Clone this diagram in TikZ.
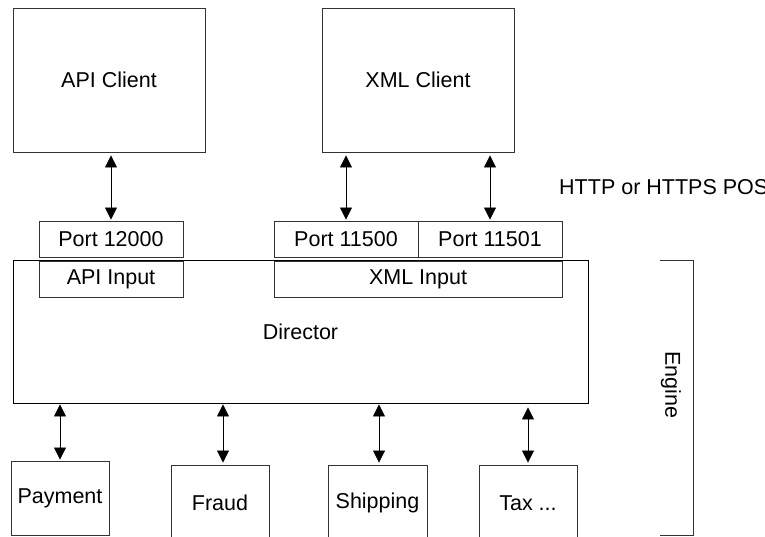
\documentclass[tikz,border=0pt]{standalone}
\usepackage{fontspec}
\setmainfont{Liberation Sans}
\usetikzlibrary{arrows.meta}
\begin{document}
\begin{tikzpicture}[x=1pt,y=-1pt,
  box/.style={draw=black!80, line width=0.9pt, fill=white, inner sep=0pt, font=\fontsize{21.5}{25}\selectfont},
  conn/.style={line width=0.8pt, {Triangle[length=12pt,width=12pt]}-{Triangle[length=12pt,width=12pt]}},
  lbl/.style={inner sep=0pt, font=\fontsize{21.5}{25}\selectfont}]
\clip (0,0) rectangle (765,536);
\fill[white] (0,0) rectangle (765,536);
% clients
\node[box, minimum width=192pt, minimum height=144pt] (apic) at (109,80) {API Client};
\node[box, minimum width=192pt, minimum height=144pt] (xmlc) at (418,80) {XML Client};
% director
\node[box, draw=black, minimum width=575pt, minimum height=143pt] (dir) at (300.5,331.5) {Director};
% ports
\node[box, minimum width=144pt, minimum height=36pt] (p12000) at (111,239) {Port 12000};
\node[box, minimum width=144pt, minimum height=36pt] (p11500) at (346,239) {Port 11500};
\node[box, minimum width=144pt, minimum height=36pt] (p11501) at (490,239) {Port 11501};
% inputs
\node[box, minimum width=144pt, minimum height=36pt] (apiin) at (111,279) {API Input};
\node[box, minimum width=288pt, minimum height=36pt] (xmlin) at (418,279) {XML Input};
% bottom modules
\node[box, minimum width=98pt, minimum height=74pt] (pay) at (60,498) {Payment};
\node[box, minimum width=98pt, minimum height=76pt] (fraud) at (220,503) {Fraud};
\node[box, minimum width=99pt, minimum height=76pt] (ship) at (377.5,503) {Shipping};
\node[box, minimum width=98pt, minimum height=76pt] (tax) at (528,503) {Tax ...};
% connectors client-port
\draw[conn, shorten <=3pt, shorten >=1pt] (apic.south -| p12000.north) -- (p12000.north);
\draw[conn, shorten <=3pt, shorten >=1pt] (xmlc.south -| p11500.north) -- (p11500.north);
\draw[conn, shorten <=3pt, shorten >=1pt] (xmlc.south -| p11501.north) -- (p11501.north);
% connectors director-modules
\draw[conn, shorten <=1pt, shorten >=1pt] (dir.south -| pay.north) -- (pay.north);
\draw[conn, shorten <=1pt, shorten >=2pt] ([xshift=3pt]dir.south -| fraud.north) -- ([xshift=3pt]fraud.north);
\draw[conn, shorten <=1pt, shorten >=2pt] ([xshift=1.5pt]dir.south -| ship.north) -- ([xshift=1.5pt]ship.north);
\draw[conn, shorten <=4pt, shorten >=2pt] (dir.south -| tax.north) -- (tax.north);
% HTTP label
\node[lbl, anchor=west] (http) at (559,187) {HTTP or HTTPS POST};
% Engine bracket
\coordinate (bt) at (660,260);
\coordinate (bb) at (660,535);
\draw[line width=0.9pt, draw=black!80] (bt) -- ++(33,0) |- (bb);
\node[lbl, rotate=-90] (engine) at (671,385) {Engine};
\end{tikzpicture}
\end{document}
